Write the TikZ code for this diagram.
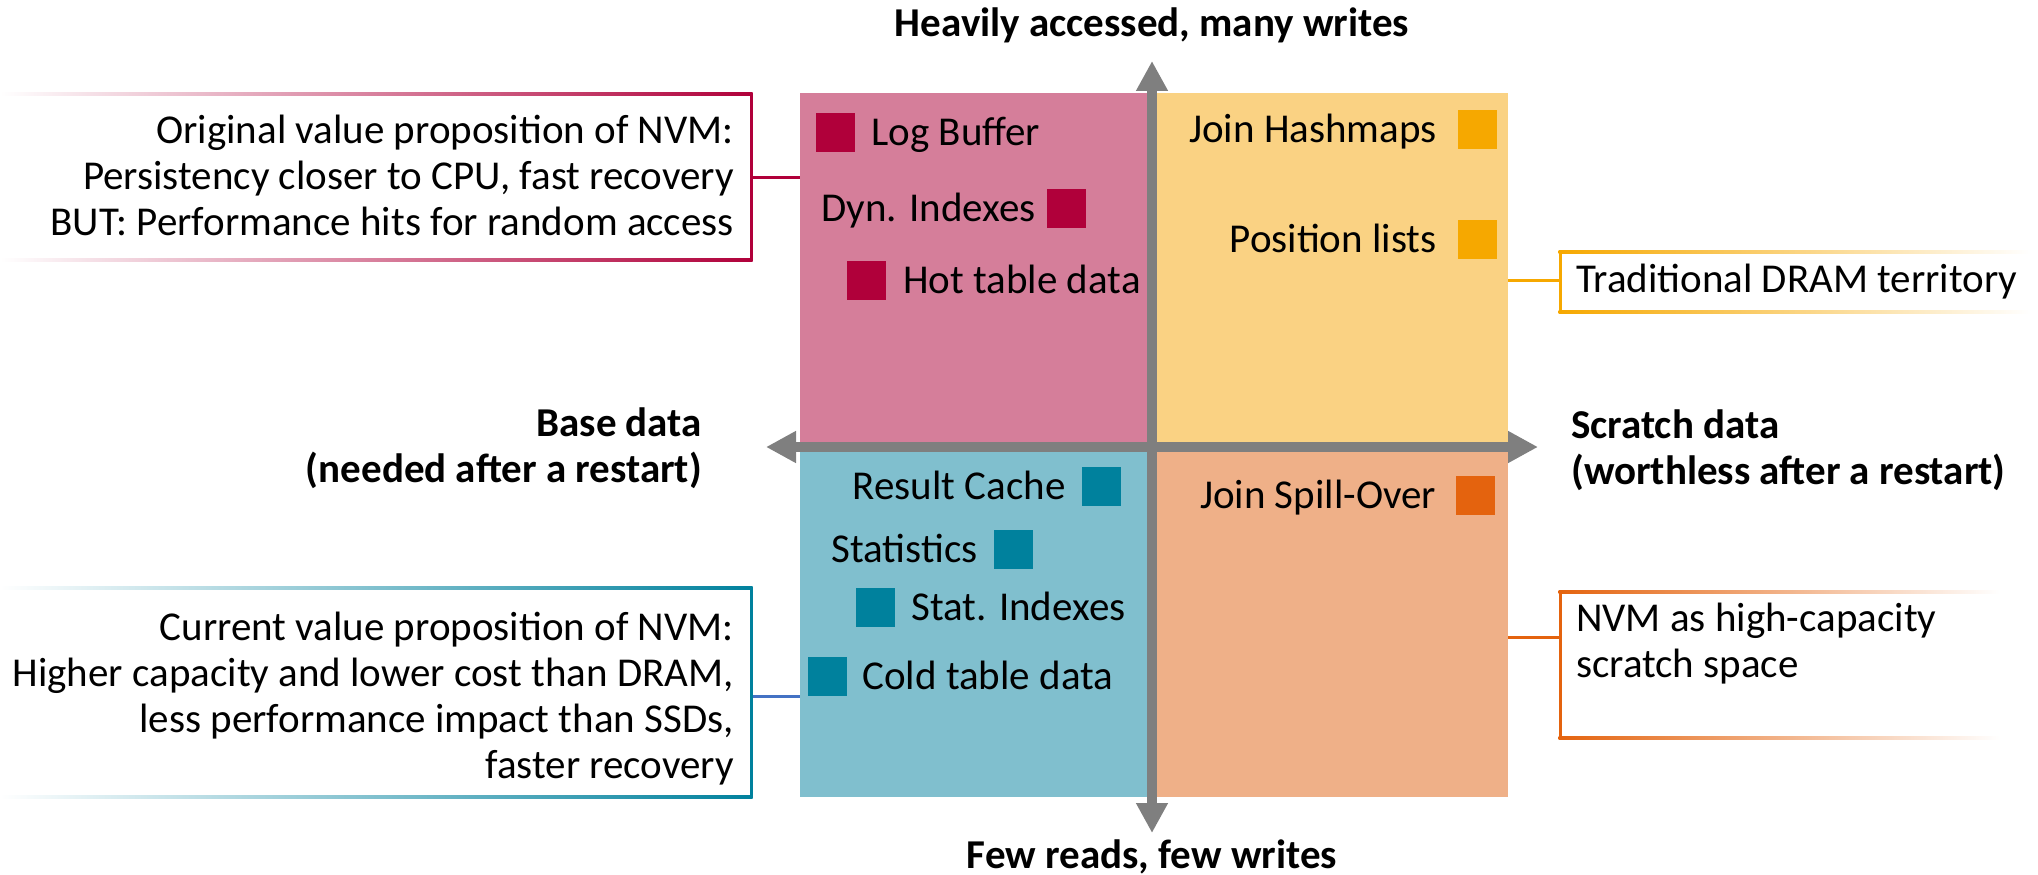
\documentclass[tikz,border=0pt]{standalone}
\usepackage{fontspec}
\setmainfont{Carlito}
\usetikzlibrary{arrows.meta,positioning}
\definecolor{crim}{HTML}{B0003A}
\definecolor{crimq}{HTML}{D57E9A}
\definecolor{amb}{HTML}{F6A800}
\definecolor{ambq}{HTML}{FAD283}
\definecolor{petrol}{HTML}{00819D}
\definecolor{petrolq}{HTML}{80BFCE}
\definecolor{oran}{HTML}{E4630E}
\definecolor{oranq}{HTML}{EFB088}
\definecolor{linkblue}{HTML}{4472C4}
\definecolor{axisgray}{HTML}{7F7F7F}
\begin{document}
\begin{tikzpicture}[x=1pt, y=-1pt, font=\fontsize{41}{46}\selectfont,
    quad/.style={anchor=north west, inner sep=0pt},
    sq/.style={inner sep=0pt, minimum size=39pt},
    item/.style={inner sep=0pt, text height=26.5pt, text depth=0pt},
    head/.style={inner sep=0pt, font=\fontsize{41}{46}\selectfont\bfseries},
    notetxt/.style={inner sep=0pt},
    axis/.style={axisgray, line width=10pt,
      {Triangle[width=30pt,length=30pt]}-{Triangle[width=30pt,length=30pt]}},
    link/.style={line width=3pt},
    rim/.style={line width=3pt}]
  \useasboundingbox (0,0) rectangle (2038,875);
  \node[quad, fill=crimq, minimum width=347pt, minimum height=349pt] (bq) at (800,93) {};
  \node[quad, fill=ambq, minimum width=351pt, minimum height=349pt] (yq) at (1157,93) {};
  \node[quad, fill=petrolq, minimum width=347pt, minimum height=345pt] (pq) at (800,452) {};
  \node[quad, fill=oranq, minimum width=351pt, minimum height=345pt] (oq) at (1157,452) {};
  \coordinate (wt) at (766,447);
  \coordinate (et) at (1538,447);
  \coordinate (nt) at (1152,61);
  \coordinate (st) at (1152,833);
  \draw[axis] (wt) -- (et);
  \draw[axis] (nt) -- (st);
  \node[sq, fill=crim] (lbm) at (835.5,132) {};
  \node[item, right=16pt of lbm] (lb) {Log Buffer};
  \node[sq, fill=crim] (dim) at (1066.5,208) {};
  \node[item, left=11pt of dim] (di) {Dyn. Indexes};
  \node[sq, fill=crim] (htm) at (866.5,280) {};
  \node[item, right=17pt of htm] (ht) {Hot table data};
  \node[sq, fill=amb] (jhm) at (1477.5,129) {};
  \node[item, left=21pt of jhm] (jh) {Join Hashmaps};
  \node[sq, fill=amb] (plm) at (1477.5,239) {};
  \node[item, left=21pt of plm] (pl) {Position lists};
  \node[sq, fill=petrol] (rcm) at (1101.5,486) {};
  \node[item, left=16pt of rcm] (rc) {Result Cache};
  \node[sq, fill=petrol] (stm) at (1013.5,549) {};
  \node[item, left=16pt of stm] (sta) {Statistics};
  \node[sq, fill=petrol] (sim) at (875.5,607) {};
  \node[item, right=16pt of sim] (si) {Stat. Indexes};
  \node[sq, fill=petrol] (ctm) at (827.5,676) {};
  \node[item, right=15pt of ctm] (ct) {Cold table data};
  \node[sq, fill=oran] (jsm) at (1475,495) {};
  \node[item, left=19pt of jsm] (js) {Join Spill-Over};
  \node[head, text height=26.5pt, text depth=0pt] (hv) at (1152,23) {Heavily accessed, many writes};
  \node[head, text height=26.5pt, text depth=0pt] (fw) at (1152,855) {Few reads, few writes};
  \node[head, align=right, anchor=east] (base) at (702,448) {Base data\\(needed after a restart)};
  \node[head, align=left, anchor=west] (scr) at (1571,450) {Scratch data\\(worthless after a restart)};
  % note boxes
  \node[notetxt, align=right, anchor=east] (orig) at (734,175)
    {Original value proposition of NVM:\\Persistency closer to CPU, fast recovery\\BUT: Performance hits for random access};
  \shade[left color=white, right color=crim] (0,92.5) rectangle (752.5,95.5);
  \shade[left color=white, right color=crim] (0,258.5) rectangle (752.5,261.5);
  \draw[rim, crim] (751,94) -- (751,260);
  \coordinate (origc) at (752.5,177);
  \draw[link, crim] (origc) -- (origc -| bq.west);
  \node[notetxt, align=right, anchor=east] (curr) at (734,699)
    {Current value proposition of NVM:\\Higher capacity and lower cost than DRAM,\\less performance impact than SSDs,\\faster recovery};
  \shade[left color=white, right color=petrol] (0,586.5) rectangle (752.5,589.5);
  \shade[left color=white, right color=petrol] (0,795.5) rectangle (752.5,798.5);
  \draw[rim, petrol] (751,588) -- (751,797);
  \coordinate (currc) at (752.5,696);
  \draw[link, linkblue] (currc) -- (currc -| pq.west);
  \node[notetxt, anchor=west] (trad) at (1576,282) {Traditional DRAM territory};
  \shade[left color=amb, right color=white] (1558.5,250.5) rectangle (2030,253.5);
  \shade[left color=amb, right color=white] (1558.5,310.5) rectangle (2030,313.5);
  \draw[rim, amb] (1560,252) -- (1560,312);
  \coordinate (tradc) at (1558.5,280);
  \draw[link, amb] (yq.east |- tradc) -- (tradc);
  \node[notetxt, align=left, anchor=west] (nvm) at (1576,644) {NVM as high-capacity\\scratch space};
  \shade[left color=oran, right color=white] (1558.5,590.5) rectangle (2000,593.5);
  \shade[left color=oran, right color=white] (1558.5,736.5) rectangle (2000,739.5);
  \draw[rim, oran] (1560,592) -- (1560,738);
  \coordinate (nvmc) at (1558.5,637);
  \draw[link, oran] (oq.east |- nvmc) -- (nvmc);
\end{tikzpicture}
\end{document}
